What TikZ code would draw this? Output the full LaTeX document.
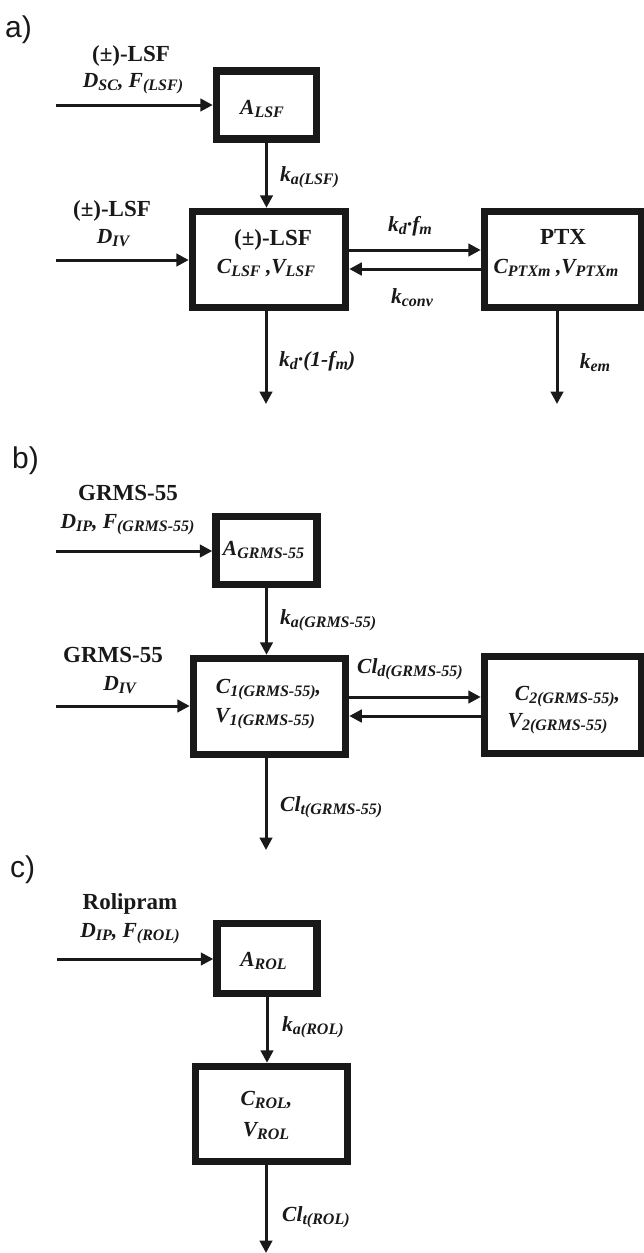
\documentclass[tikz,border=0pt]{standalone}
\usepackage{fontspec}
\setmainfont{Liberation Serif}
\newfontfamily\panelfont{Liberation Sans}
\usetikzlibrary{arrows.meta}
\definecolor{ink}{RGB}{25,25,25}
\newcommand\lsub[1]{\raisebox{-3.5pt}{\fontsize{16}{16}\selectfont #1}}
\begin{document}
\begin{tikzpicture}[x=1pt,y=-1pt,
  box/.style={draw=ink, line width=7.5pt, inner sep=0pt, anchor=center},
  arr/.style={draw=ink, line width=3pt, -{Triangle[length=12.5pt,width=12.5pt]}},
  hd/.style={font=\fontsize{23}{24}\selectfont\bfseries, inner sep=0pt, anchor=base, text=ink},
  it/.style={font=\fontsize{21.5}{24}\selectfont\bfseries\itshape, inner sep=0pt, anchor=base, text=ink},
  itw/.style={it, anchor=base west},
  panel/.style={font=\panelfont\fontsize{30}{32}\selectfont, inner sep=0pt, anchor=base west, text=ink}]
\useasboundingbox (0,0) rectangle (643,1253);

% ---------------- panel a ----------------
\node[panel] (la) at (5,37) {a)};
\node[box, minimum width=100, minimum height=68] (A1) at (266.5,105) {};
\node[box, minimum width=153, minimum height=96] (L1) at (269,259.5) {};
\node[box, minimum width=157, minimum height=96] (P1) at (563,259.5) {};

\node[hd] (d1a) at (131,61) {(±)-LSF};
\node[it] (d1b) at (133,87) {D\lsub{SC}, F\lsub{(LSF)}};
\node[it] (A1t) at (262,114) {A\lsub{LSF}};
\node[itw] (ka1) at (280,181) {k\lsub{a(LSF)}};
\node[hd] (d2a) at (112,216) {(±)-LSF};
\node[it] (d2b) at (113,243) {D\lsub{IV}};
\node[hd] (L1a) at (273,245) {(±)-LSF};
\node[it] (L1b) at (266,273) {C\lsub{LSF} ,V\lsub{LSF}};
\node[it] (kdf) at (410,231) {k\lsub{d}·f\lsub{m}};
\node[it] (kconv) at (412,303) {k\lsub{conv}};
\node[hd] (P1a) at (563,244) {PTX};
\node[it] (P1b) at (556,273) {C\lsub{PTXm} ,V\lsub{PTXm}};
\node[itw] (kd1) at (279,366) {k\lsub{d}·(1-f\lsub{m})};
\node[it] (kem) at (595,368) {k\lsub{em}};

\coordinate (a1s) at (56,105);
\coordinate (a2s) at (56,260);
\coordinate (L1out) at (266,404);
\coordinate (P1out) at (557,404);
\draw[arr] (a1s) -- (A1.west);
\draw[arr] (a2s) -- (a2s -| L1.west);
\draw[arr] (A1.south) -- (A1.south |- L1.north);
\draw[arr] ([yshift=9.5pt]L1.east) -- ([yshift=9.5pt]P1.west);
\draw[arr] ([yshift=-9.5pt]P1.west) -- ([yshift=-9.5pt]L1.east);
\draw[arr] (L1.south -| L1out) -- (L1out);
\draw[arr] (P1.south -| P1out) -- (P1out);

% ---------------- panel b ----------------
\node[panel] (lb) at (12,468) {b)};
\node[box, minimum width=101, minimum height=68] (A2) at (266.5,550.5) {};
\node[box, minimum width=152, minimum height=96] (C1) at (269.5,706.5) {};
\node[box, minimum width=157, minimum height=97] (C2) at (563,705) {};

\node[hd] (g1a) at (128,500) {GRMS-55};
\node[it] (g1b) at (127.5,528) {D\lsub{IP}, F\lsub{(GRMS-55)}};
\node[it] (A2t) at (263.5,555) {A\lsub{GRMS-55}};
\node[itw] (ka2) at (280,624) {k\lsub{a(GRMS-55)}};
\node[hd] (g2a) at (113,662) {GRMS-55};
\node[it] (g2b) at (119.5,690) {D\lsub{IV}};
\node[it] (C1a) at (268.5,693) {C\lsub{1(GRMS-55)},};
\node[it] (C1b) at (265,722) {V\lsub{1(GRMS-55)}};
\node[it] (cld) at (410,673) {Cl\lsub{d(GRMS-55)}};
\node[it] (C2a) at (567.5,700) {C\lsub{2(GRMS-55)},};
\node[it] (C2b) at (557.5,727) {V\lsub{2(GRMS-55)}};
\node[itw] (clt2) at (280,811) {Cl\lsub{t(GRMS-55)}};

\coordinate (b1s) at (56,551);
\coordinate (b2s) at (56,706);
\coordinate (C1out) at (266,850);
\draw[arr] (b1s) -- (b1s -| A2.west);
\draw[arr] (b2s) -- (b2s -| C1.west);
\draw[arr] (A2.south) -- (A2.south |- C1.north);
\draw[arr] ([yshift=9.5pt]C1.east) -- ([yshift=9.5pt]C1.east -| C2.west);
\draw[arr] ([yshift=-9.5pt]C1.east -| C2.west) -- ([yshift=-9.5pt]C1.east);
\draw[arr] (C1.south -| C1out) -- (C1out);

% ---------------- panel c ----------------
\node[panel] (lc) at (10,877) {c)};
\node[box, minimum width=100, minimum height=70] (A3) at (267,958.5) {};
\node[box, minimum width=152, minimum height=95] (C3) at (271.5,1114) {};

\node[hd] (r1a) at (130,909) {Rolipram};
\node[it] (r1b) at (130,937) {D\lsub{IP}, F\lsub{(ROL)}};
\node[it] (A3t) at (263.5,966) {A\lsub{ROL}};
\node[itw] (ka3) at (282,1031) {k\lsub{a(ROL)}};
\node[it] (C3a) at (266.5,1105) {C\lsub{ROL},};
\node[it] (C3b) at (266,1136) {V\lsub{ROL}};
\node[itw] (clt3) at (282,1221) {Cl\lsub{t(ROL)}};

\coordinate (c1s) at (57,959);
\coordinate (C3out) at (266,1253);
\draw[arr] (c1s) -- (c1s -| A3.west);
\draw[arr] (A3.south) -- (A3.south |- C3.north);
\draw[arr] (C3.south -| C3out) -- (C3out);
\end{tikzpicture}
\end{document}
